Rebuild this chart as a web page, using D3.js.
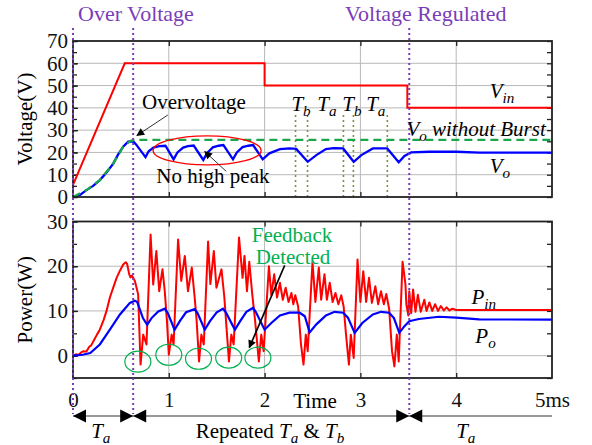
<!DOCTYPE html>
<html>
<head>
<meta charset="utf-8">
<script src="https://cdn.jsdelivr.net/npm/d3@7/dist/d3.min.js"></script>
<style>
  body { margin: 0; background: #fff; }
  svg text { font-family: "Liberation Serif", "Times New Roman", serif !important; }
</style>
</head>
<body>
<svg id="chart" width="592" height="445"></svg>
<script>
// ---- data (time in ms) ----
var vinData = [[0, 5.4], [0.54, 60], [2, 60], [2, 50], [3.49, 50], [3.49, 40], [5, 40]];

var voData = [[0, 0], [0.07, 0.8], [0.14, 3.1], [0.21, 5], [0.28, 7.6], [0.35, 11], [0.42, 15], [0.47, 19],
  [0.524, 22.6], [0.576, 24.8], [0.628, 25], [0.66, 23.5], [0.757, 17.9], [0.79, 20.5], [0.84, 22.2], [0.9, 22.8],
  [0.965, 23], [1.05, 16.9], [1.09, 20], [1.15, 22.2], [1.2, 22.8], [1.26, 23.1], [1.36, 16.6], [1.4, 19.8],
  [1.46, 22.3], [1.52, 23], [1.57, 23.3], [1.67, 16.9], [1.71, 20], [1.77, 22.4], [1.83, 23], [1.88, 23.3],
  [1.98, 16.9], [2.05, 19.6], [2.16, 21.5], [2.26, 21.8], [2.33, 21.6], [2.45, 15.8], [2.54, 18.8], [2.64, 21.5],
  [2.72, 21.9], [2.82, 21.8], [2.93, 15.8], [3.01, 18.8], [3.13, 21.8], [3.28, 21.8], [3.4, 15.6], [3.46, 18.4],
  [3.53, 20], [3.72, 20.3], [4.0, 20.3], [4.24, 19.9], [5, 19.9]];

var voNoBurst = [[0, 0], [0.14, 3.1], [0.28, 7.6], [0.42, 15], [0.524, 22.6], [0.6, 25.2], [0.66, 25.6], [5, 25.6]];

var pinData = [[0, 0], [0.03, 0.3], [0.06, 0.2], [0.09, 0.8], [0.11, 1], [0.14, 0.9], [0.17, 2], [0.19, 2.3],
  [0.22, 3.5], [0.25, 4.7], [0.28, 5.8], [0.32, 8], [0.35, 10], [0.385, 13], [0.42, 15.2], [0.455, 17.4],
  [0.49, 19], [0.524, 20.4], [0.55, 20.9], [0.565, 20.5], [0.587, 18.2], [0.6, 17.5], [0.615, 17.9],
  [0.646, 16.7], [0.68, 13.7],
  [0.705, -2], [0.733, 4.7], [0.767, 2.5], [0.81, 27.1], [0.837, 15.9], [0.87, 23.4], [0.9, 14.4],
  [0.934, 19.3], [0.958, 14.4], [0.98, 8], [1.0, 0.2],
  [1.03, 4.7], [1.05, 2.5], [1.097, 26], [1.13, 16.7], [1.167, 22.3], [1.2, 14.4], [1.24, 19.7], [1.27, 13],
  [1.29, 8], [1.316, -1.3],
  [1.34, 4.7], [1.365, 2.5], [1.41, 25.5], [1.434, 16], [1.47, 23.4], [1.497, 15.2], [1.55, 19.3], [1.58, 13],
  [1.6, 7], [1.628, -1.3],
  [1.653, 4.7], [1.677, 2.5], [1.733, 26.4], [1.77, 17.4], [1.79, 22.3], [1.816, 14.4], [1.84, 21], [1.87, 14],
  [1.9, 8], [1.94, -1.3],
  [1.965, 4.7], [1.99, 1], [2.045, 20], [2.07, 13.5], [2.1, 18.2], [2.13, 13], [2.16, 16.3], [2.19, 12.5],
  [2.22, 15.2], [2.25, 12], [2.28, 14], [2.3, 11.5], [2.32, 13.5], [2.35, 11], [2.38, 2.5], [2.406, -2],
  [2.43, 4.7], [2.45, 1],
  [2.5, 21], [2.53, 12], [2.566, 19.7], [2.59, 12.5], [2.625, 18.2], [2.65, 12.5], [2.68, 16.3], [2.71, 12],
  [2.74, 14], [2.77, 11.5], [2.8, 13.5], [2.825, 11], [2.85, 4.7], [2.88, -2], [2.9, 4.7], [2.93, -0.5],
  [2.97, 21.5], [3.0, 12], [3.03, 18.9], [3.06, 12], [3.09, 17.4], [3.12, 11.8], [3.156, 15.5], [3.185, 11.5],
  [3.215, 14.4], [3.245, 11.5], [3.27, 13.8], [3.3, 10.5], [3.33, 1], [3.355, -2.4], [3.38, 4.7], [3.4, -1.3],
  [3.44, 21], [3.47, 16], [3.48, 11.4], [3.5, 9], [3.51, 14.4], [3.53, 9.5], [3.55, 14.8], [3.575, 9.8],
  [3.6, 13.6], [3.63, 9.8], [3.667, 12.5], [3.69, 10], [3.72, 11.9], [3.75, 10], [3.78, 11.5], [3.81, 10],
  [3.84, 11.1], [3.87, 10.1], [3.9, 10.8], [3.93, 10.1], [3.96, 10.5], [4.0, 10.2], [4.5, 10.2], [5, 10.2]];

var poData = [[0, 0], [0.1, 0.2], [0.18, 0.6], [0.28, 2.5], [0.385, 5.8], [0.49, 9.2], [0.594, 11.8],
  [0.646, 12.3], [0.67, 12], [0.73, 8.4], [0.774, 6.9], [0.82, 8.4], [0.89, 9.9], [0.958, 10.5], [0.99, 9.5],
  [1.06, 5.8], [1.115, 7.7], [1.18, 9.7], [1.27, 10.4], [1.3, 9.5], [1.375, 5.8], [1.43, 7.7], [1.5, 9.7],
  [1.566, 10.5], [1.6, 9.5], [1.69, 5.8], [1.745, 7.7], [1.81, 9.8], [1.88, 10.7], [1.91, 9.7], [2.0, 5.8],
  [2.07, 7.3], [2.16, 9], [2.26, 9.6], [2.365, 9.6], [2.42, 8.8], [2.47, 5.2], [2.54, 7], [2.64, 9],
  [2.73, 9.8], [2.82, 9.6], [2.87, 8.5], [2.94, 5.1], [3.02, 7.3], [3.13, 9.2], [3.215, 9.8], [3.3, 9.6],
  [3.35, 8.4], [3.406, 5.1], [3.46, 6.6], [3.51, 7.7], [3.61, 8.2], [3.82, 8.7], [4.0, 8.5], [4.24, 8.1], [5, 8.05]];

var xTicks = [0, 1, 2, 3, 4, 5];
var vTicks = [0, 10, 20, 30, 40, 50, 60, 70];
var pTicks = [0, 10, 20, 30];
var phaseLines = [0, 0.628, 3.51];          // purple dotted
var burstLines = [2.323, 2.448, 2.823, 2.927, 3.281]; // olive dotted
var burstLabels = [["b", 2.28], ["a", 2.55], ["b", 2.81], ["a", 3.06]];
var feedbackDips = [[0.677, -1.35], [1.0, 0.2], [1.31, -0.7], [1.625, -0.45], [1.93, -0.45]];

var purple = "#7a3db8", green = "#00b050", olive = "#77933c";
var serif = "'Liberation Serif', 'Times New Roman', serif";

var svg = d3.select("#chart");
svg.append("rect").attr("width", 592).attr("height", 445).attr("fill", "#fff");

var x = d3.scaleLinear().domain([0, 5]).range([73, 552]);
var yV = d3.scaleLinear().domain([0, 70]).range([197, 41]);
var yP = d3.scaleLinear().domain([-5, 30]).range([378, 221.5]);

var defs = svg.append("defs");
defs.append("marker").attr("id", "ah").attr("viewBox", "0 0 10 10")
  .attr("refX", 9).attr("refY", 5).attr("markerWidth", 9).attr("markerHeight", 8)
  .attr("markerUnits", "userSpaceOnUse").attr("orient", "auto")
  .append("path").attr("d", "M0,0L10,5L0,10Z").attr("fill", "#000");

// helper for italic T_a style text
function richText(g, px, py, parts, size, anchor, fill) {
  var t = g.append("text").attr("x", px).attr("y", py)
    .attr("font-size", size).attr("text-anchor", anchor || "start").attr("fill", fill || "#000");
  var shift = 0;
  parts.forEach(function (p) {
    var dy = (p.sub ? 5 : 0) - shift;
    shift = p.sub ? 5 : 0;
    t.append("tspan").attr("dy", dy)
      .attr("font-style", p.it ? "italic" : "normal")
      .attr("font-size", p.sub ? size * 0.72 : size)
      .text(p.t);
  });
  return t;
}

function panel(y, yTicks, minor) {
  var g = svg.append("g");
  // grid
  g.append("g").selectAll("line").data(yTicks.filter(function (d) {
    return d > y.domain()[0] && d < y.domain()[1];
  })).enter().append("line")
    .attr("x1", x(0)).attr("x2", x(5)).attr("y1", y).attr("y2", y)
    .attr("stroke", "#b8b8b8").attr("stroke-width", 1);
  g.append("g").selectAll("line").data([1, 2, 3, 4]).enter().append("line")
    .attr("x1", x).attr("x2", x).attr("y1", y.range()[0]).attr("y2", y.range()[1])
    .attr("stroke", "#b8b8b8").attr("stroke-width", 1);
  // axes with inward ticks
  var left = g.append("g").attr("transform", "translate(" + x(0) + ",0)")
    .call(d3.axisLeft(y).tickValues(yTicks).tickSize(-5).tickPadding(5));
  left.attr("font-family", null);
  left.selectAll("text").attr("font-size", 21).style("font-family", serif).attr("fill", "#111");
  g.append("g").attr("transform", "translate(" + x(0) + ",0)")
    .call(d3.axisLeft(y).tickValues(minor).tickSize(-4).tickFormat(""));
  g.append("g").attr("transform", "translate(" + x(5) + ",0)")
    .call(d3.axisRight(y).tickValues(minor).tickSize(-5).tickFormat(""));
  g.append("g").attr("transform", "translate(0," + y.range()[1] + ")")
    .call(d3.axisTop(x).tickValues([1, 2, 3, 4]).tickSize(-5).tickFormat(""));
  g.selectAll(".domain").remove();
  g.selectAll(".tick line").attr("stroke", "#222").attr("stroke-width", 1.3);
  return g;
}

var gTop = panel(yV, vTicks, d3.range(0, 71, 5));
var gBot = panel(yP, pTicks, d3.range(-5, 31, 5));

// bottom panel x axis with labels
var xa = gBot.append("g").attr("transform", "translate(0," + yP.range()[0] + ")")
  .call(d3.axisBottom(x).tickValues(xTicks).tickSize(-5).tickPadding(14)
    .tickFormat(function (d) { return d === 5 ? "5ms" : d; }));
xa.attr("font-family", null);
xa.select(".domain").remove();
xa.selectAll(".tick line").attr("stroke", "#222").attr("stroke-width", 1.3)
  .filter(function (d) { return d === 0 || d === 5; }).remove();
xa.selectAll("text").attr("font-size", 21).style("font-family", serif).attr("fill", "#111");
var xt = gTop.append("g").attr("transform", "translate(0," + yV.range()[0] + ")")
  .call(d3.axisBottom(x).tickValues([1, 2, 3, 4]).tickSize(-5).tickFormat(""));
xt.select(".domain").remove();
xt.selectAll(".tick line").attr("stroke", "#222").attr("stroke-width", 1.3);

// axis titles
svg.append("text").attr("transform", "translate(32," + yV(35) + ") rotate(-90)")
  .attr("text-anchor", "middle").attr("font-size", 21).text("Voltage(V)");
svg.append("text").attr("transform", "translate(32," + yP(12.5) + ") rotate(-90)")
  .attr("text-anchor", "middle").attr("font-size", 21).text("Power(W)");
svg.append("text").attr("x", 315).attr("y", 408).attr("text-anchor", "middle")
  .attr("font-size", 21).text("Time");

// ---- top panel curves ----
var lineV = d3.line().x(function (d) { return x(d[0]); }).y(function (d) { return yV(d[1]); });
var lineP = d3.line().x(function (d) { return x(d[0]); }).y(function (d) { return yP(d[1]); });

// olive burst markers
gTop.append("g").selectAll("line").data(burstLines).enter().append("line")
  .attr("x1", x).attr("x2", x).attr("y1", yV(0)).attr("y2", yV(37))
  .attr("stroke", olive).attr("stroke-width", 1.6).attr("stroke-dasharray", "2,3");

gTop.append("path").datum(vinData).attr("d", lineV)
  .attr("fill", "none").attr("stroke", "#f00").attr("stroke-width", 2);
gTop.append("path").datum(voData).attr("d", lineV)
  .attr("fill", "none").attr("stroke", "#0000ff").attr("stroke-width", 2.3);
gTop.append("path").datum(voNoBurst).attr("d", lineV)
  .attr("fill", "none").attr("stroke", "#1aa64a").attr("stroke-width", 2.3).attr("stroke-dasharray", "8,5");

// ---- bottom panel curves ----
gBot.append("path").datum(pinData).attr("d", lineP)
  .attr("fill", "none").attr("stroke", "#f00").attr("stroke-width", 2).attr("stroke-linejoin", "round");
gBot.append("path").datum(poData).attr("d", lineP)
  .attr("fill", "none").attr("stroke", "#0000ff").attr("stroke-width", 2.2);

// frames
[yV, yP].forEach(function (y) {
  svg.append("rect").attr("x", x(0)).attr("y", y.range()[1])
    .attr("width", x(5) - x(0)).attr("height", y.range()[0] - y.range()[1])
    .attr("fill", "none").attr("stroke", "#222").attr("stroke-width", 1.8);
});

// purple phase lines
svg.append("g").selectAll("line").data(phaseLines).enter().append("line")
  .attr("x1", x).attr("x2", x).attr("y1", 28).attr("y2", 414)
  .attr("stroke", purple).attr("stroke-width", 2).attr("stroke-dasharray", "2,3");

svg.append("text").attr("x", 78).attr("y", 21).attr("font-size", 22).attr("fill", purple).text("Over Voltage");
svg.append("text").attr("x", 345).attr("y", 21).attr("font-size", 22).attr("fill", purple).text("Voltage Regulated");

// ---- top annotations ----
svg.append("text").attr("x", x(0.72)).attr("y", yV(39.3)).attr("font-size", 21).text("Overvoltage");
svg.append("line").attr("x1", x(0.99)).attr("y1", yV(36.8)).attr("x2", x(0.667)).attr("y2", yV(27.6))
  .attr("stroke", "#000").attr("stroke-width", 0.8).attr("marker-end", "url(#ah)");
svg.append("ellipse").attr("cx", x(1.4)).attr("cy", yV(20.9)).attr("rx", 54).attr("ry", 14.5)
  .attr("fill", "none").attr("stroke", "#f00").attr("stroke-width", 1.4);
svg.append("line").attr("x1", x(1.6)).attr("y1", yV(11.5)).attr("x2", x(1.375)).attr("y2", yV(20.4))
  .attr("stroke", "#000").attr("stroke-width", 0.8).attr("marker-end", "url(#ah)");
svg.append("text").attr("x", x(0.87)).attr("y", yV(6.2)).attr("font-size", 21).text("No high peak");

burstLabels.forEach(function (b) {
  richText(svg, x(b[1]), yV(38.6), [{ t: "T", it: true }, { t: b[0], it: true, sub: true }], 21);
});
richText(svg, x(3.48), yV(27.4), [{ t: "V", it: true }, { t: "o", it: true, sub: true }, { t: " without Burst", it: true }], 21);
richText(svg, x(4.35), yV(44.3), [{ t: "V", it: true }, { t: "in", it: true, sub: true }], 21);
richText(svg, x(4.35), yV(10.6), [{ t: "V", it: true }, { t: "o", it: true, sub: true }], 21);

// ---- bottom annotations ----
svg.append("g").selectAll("ellipse").data(feedbackDips).enter().append("ellipse")
  .attr("cx", function (d) { return x(d[0]); }).attr("cy", function (d) { return yP(d[1]); })
  .attr("rx", 13).attr("ry", 10.5).attr("fill", "none").attr("stroke", green).attr("stroke-width", 1.2);
svg.append("text").attr("x", 292).attr("y", 242).attr("text-anchor", "middle")
  .attr("font-size", 21).attr("fill", green).text("Feedback");
svg.append("text").attr("x", 293).attr("y", 264).attr("text-anchor", "middle")
  .attr("font-size", 21).attr("fill", green).text("Detected");
svg.append("line").attr("x1", x(2.21)).attr("y1", yP(20.2)).attr("x2", x(1.84)).attr("y2", yP(1.8))
  .attr("stroke", "#000").attr("stroke-width", 1.6).attr("marker-end", "url(#ah)");
richText(svg, x(4.16), yP(11.5), [{ t: "P", it: true }, { t: "in", it: true, sub: true }], 21);
richText(svg, x(4.2), yP(2.8), [{ t: "P", it: true }, { t: "o", it: true, sub: true }], 21);

// ---- phase span arrows below ----
var ay = 416;
var spans = [[0, 0.628], [0.628, 3.51], [3.51, 5]];
svg.append("line").attr("x1", x(0)).attr("x2", x(5)).attr("y1", ay).attr("y2", ay)
  .attr("stroke", "#333").attr("stroke-width", 1.2);
function head(px, dir) {
  svg.append("path").attr("d", "M" + px + "," + ay + "l" + (-dir * 13) + ",-6.5v13Z").attr("fill", "#000");
}
spans.forEach(function (s, i) {
  head(x(s[0]), -1);
  if (i < 2) head(x(s[1]), 1);
});
richText(svg, x(0.29), 438, [{ t: "T", it: true }, { t: "a", it: true, sub: true }], 21, "middle");
richText(svg, 270, 438, [{ t: "Repeated " }, { t: "T", it: true }, { t: "a", it: true, sub: true },
  { t: " & " }, { t: "T", it: true }, { t: "b", it: true, sub: true }], 21, "middle");
richText(svg, x(4.1), 438, [{ t: "T", it: true }, { t: "a", it: true, sub: true }], 21, "middle");
</script>
</body>
</html>
